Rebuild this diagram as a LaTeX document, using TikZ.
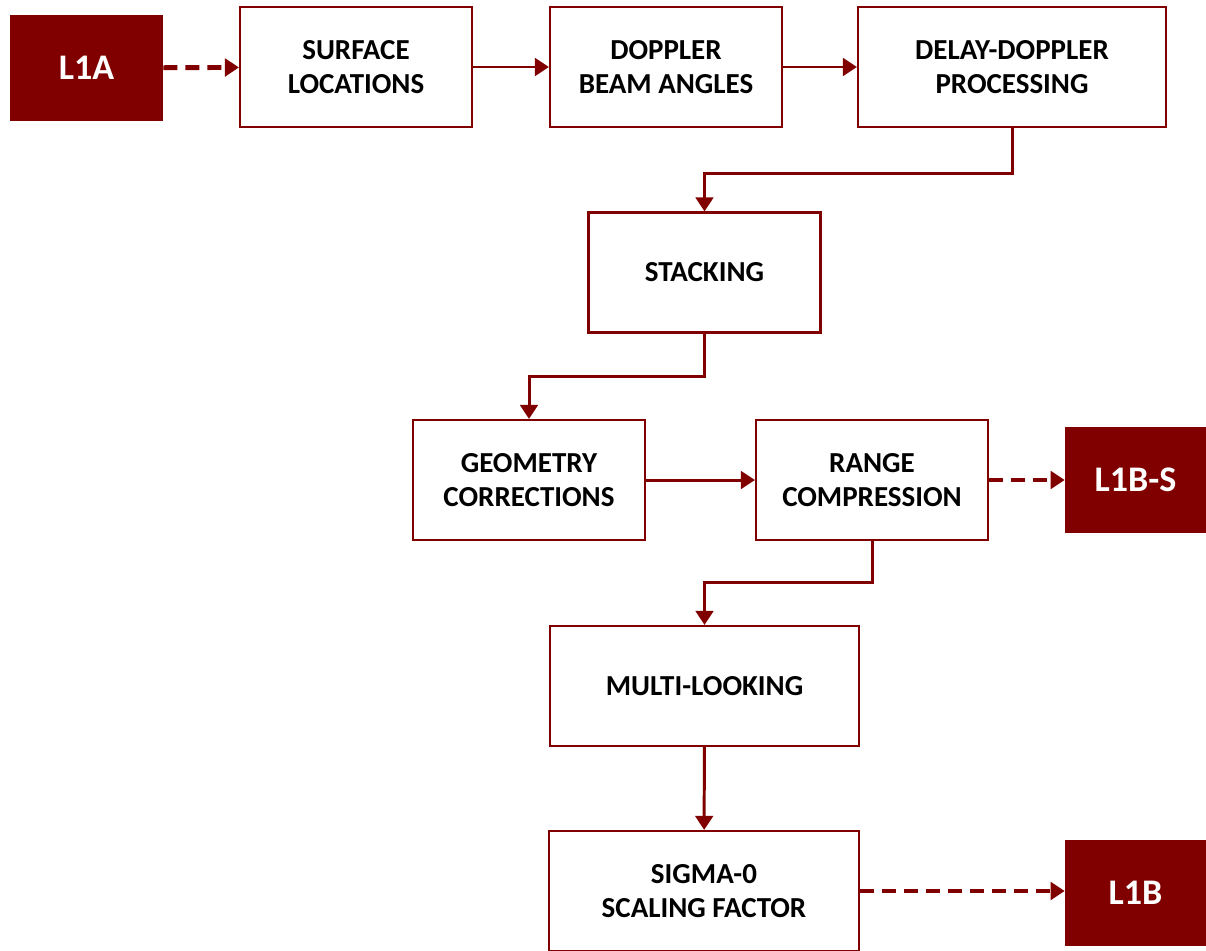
\documentclass[tikz,border=0pt]{standalone}
\usepackage{fontspec}
\setmainfont{Carlito}
\usetikzlibrary{arrows.meta}
\definecolor{maroon}{HTML}{800000}
\begin{document}
\begin{tikzpicture}[x=0.02cm, y=-0.02cm,
  stepbox/.style={draw=maroon, line width=1.2pt, fill=white, align=center, font=\bfseries\fontsize{16.5}{19.5}\selectfont, minimum width=4.64cm, minimum height=2.4cm, inner sep=0pt},
  level/.style={fill=maroon, text=white, font=\bfseries\fontsize{20.5}{24}\selectfont, minimum width=2.82cm, minimum height=2.12cm, inner sep=0pt},
  arr/.style={draw=maroon, line width=1.7pt, -{Triangle[width=10pt,length=8pt]}},
  darr/.style={draw=maroon, line width=2.8pt, dash pattern=on 8pt off 4.5pt, -{Triangle[width=10pt,length=8pt]}}]
\useasboundingbox (0,0) rectangle (1206,950);
\node [level, minimum width=3.06cm] (l1a) at (86.5,68) {L1A};
\node [stepbox] (surf) at (356,67) {SURFACE\\LOCATIONS};
\node [stepbox] (dopp) at (666,67) {DOPPLER\\BEAM ANGLES};
\node [stepbox, minimum width=6.16cm] (ddp) at (1012,67) {DELAY-DOPPLER\\PROCESSING};
\node [stepbox] (stack) at (704.5,272.5) {STACKING};
\node [stepbox] (geom) at (529,480) {GEOMETRY\\CORRECTIONS};
\node [stepbox] (range) at (872,480) {RANGE\\COMPRESSION};
\node [level] (l1bs) at (1135.5,480) {L1B-S};
\node [stepbox, minimum width=6.18cm] (multi) at (704.5,686) {MULTI-LOOKING};
\node [stepbox, minimum width=6.2cm] (sigma) at (704,891) {SIGMA-0\\SCALING FACTOR};
\node [level] (l1b) at (1135.5,893) {L1B};
\draw [darr] (l1a) -- (surf);
\draw [arr] (surf) -- (dopp);
\draw [arr] (dopp) -- (ddp);
\draw [arr] (ddp.south) -- ++(0,45) -| (stack.north);
\draw [arr] (stack.south) -- ++(0,43) -| (geom.north);
\draw [arr] (geom) -- (range);
\draw [darr] (range) -- (l1bs);
\draw [arr] (range.south) -- ++(0,41) -| (multi.north);
\draw [arr] (multi) -- (sigma);
\draw [darr] (sigma.east) -- (l1b.west |- sigma.east);
\end{tikzpicture}
\end{document}
